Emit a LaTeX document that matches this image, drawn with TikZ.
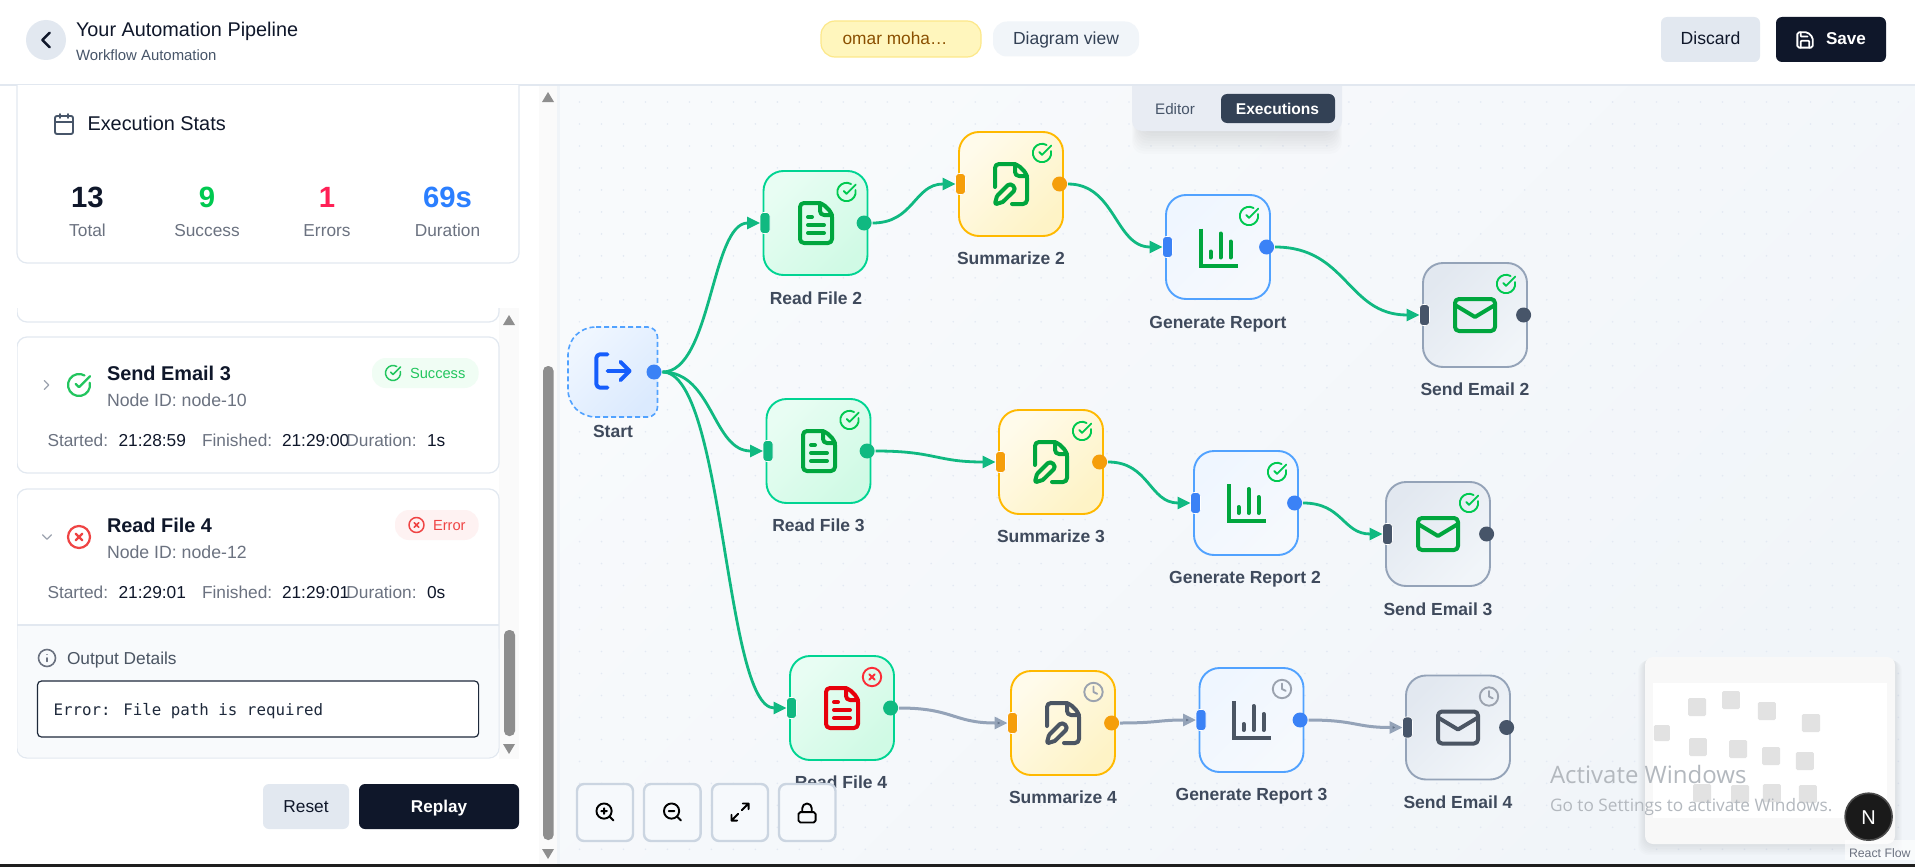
\documentclass[tikz,border=0pt]{standalone}
\usepackage{fontspec}
\setmainfont{Liberation Sans}
\newfontfamily\monof{DejaVu Sans Mono}
\newfontfamily\wmf{Open Sans}
\usetikzlibrary{arrows.meta,calc}
\definecolor{ink}{HTML}{0F172A}
\definecolor{line}{HTML}{E2E8F0}
\definecolor{muted}{HTML}{6B7280}
\definecolor{slate}{HTML}{475569}
\definecolor{labelc}{HTML}{3F4A5C}
\definecolor{okc}{HTML}{00C950}
\definecolor{errc}{HTML}{FB2C36}
\definecolor{sbar}{HTML}{8E8E8E}
\definecolor{track}{HTML}{FAFAFA}
\definecolor{edgeg}{HTML}{10B981}
\definecolor{edgeb}{HTML}{94A3B8}
\definecolor{tipb}{HTML}{64748B}
\definecolor{icg}{HTML}{00A63E}
\definecolor{icr}{HTML}{E7000B}
\definecolor{ick}{HTML}{4B5563}
\definecolor{clk}{HTML}{9CA3AF}
\definecolor{hgreen}{HTML}{10B981}
\definecolor{hamber}{HTML}{F59E0B}
\definecolor{hblue}{HTML}{3B82F6}
\definecolor{hslate}{HTML}{475569}
\definecolor{mapgrey}{HTML}{E2E2E2}
\definecolor{griddot}{HTML}{E3E9F3}
\definecolor{HTMLgreen}{HTML}{00D492}\definecolor{HTMLgreenA}{HTML}{E8FDF3}\definecolor{HTMLgreenB}{HTML}{D0FAE5}
\definecolor{HTMLamber}{HTML}{FFB900}\definecolor{HTMLamberA}{HTML}{FFFBEB}\definecolor{HTMLamberB}{HTML}{FEF3C6}
\definecolor{HTMLblue}{HTML}{51A2FF}\definecolor{HTMLblueA}{HTML}{EFF6FF}\definecolor{HTMLblueB}{HTML}{F6F9FD}
\definecolor{HTMLslate}{HTML}{94A3B8}\definecolor{HTMLslateA}{HTML}{E2E8F0}\definecolor{HTMLslateB}{HTML}{F1F5F9}
\definecolor{HTMLtool}{HTML}{CBD5E1}\definecolor{HTMLtoolf}{HTML}{F6F9FC}
\definecolor{HTMLcanvasA}{HTML}{F8FAFC}\definecolor{HTMLcanvasB}{HTML}{F1F5F9}
\definecolor{HTMLpill}{HTML}{FFF6BD}\definecolor{HTMLpillb}{HTML}{FCE88A}\definecolor{HTMLpillt}{HTML}{8A4F00}
\definecolor{HTMLdiag}{HTML}{334155}
\definecolor{HTMLrose}{HTML}{FF2056}\definecolor{HTMLbl}{HTML}{2B7FFF}
\definecolor{HTMLgood}{HTML}{22C55E}\definecolor{HTMLbad}{HTML}{EF4444}
\definecolor{HTMLbadgeg}{HTML}{F0FDF4}\definecolor{HTMLbadger}{HTML}{FEF2F2}
\definecolor{HTMLbox}{HTML}{1E293B}
\definecolor{HTMLtab}{HTML}{E8ECF3}\definecolor{HTMLtabd}{HTML}{334155}
\definecolor{HTMLstartA}{HTML}{EFF6FF}\definecolor{HTMLstartB}{HTML}{DBEAFE}
\definecolor{HTMLlog}{HTML}{155DFC}
\definecolor{HTMLmap}{HTML}{F8F8F8}
\definecolor{HTMLwm}{HTML}{B3B8BE}
\definecolor{HTMLnb}{HTML}{4A4A4A}\definecolor{HTMLn}{HTML}{1A1A1A}
\definecolor{HTMLbar}{HTML}{1E1E1E}
\newcommand\fs[1]{\fontsize{#1pt}{#1pt}\selectfont}
\newcommand\tx[7]{\node[inner sep=0,outer sep=0,anchor=#4,text=#6,font=\fs{#5}] (#1) at (#2,#3) {#7};}
\tikzset{
 ico/.style n args={4}{shift={(#1,#2)},x=#3 pt,y=-#3 pt,shift={(-12,-12)},line width=#4 pt,line cap=round,line join=round},
 fnode/.style={draw,inner sep=0,outer sep=0,minimum width=104pt,minimum height=104pt,rounded corners=20pt,line width=1.9pt},
 kgreen/.style={draw=HTMLgreen,top color=HTMLgreenA,bottom color=HTMLgreenB,shading angle=45},
 kamber/.style={draw=HTMLamber,top color=HTMLamberA,bottom color=HTMLamberB,shading angle=45},
 kblue/.style={draw=HTMLblue,top color=HTMLblueA,bottom color=HTMLblueB,shading angle=45},
 kslate/.style={draw=HTMLslate,top color=HTMLslateA,bottom color=HTMLslateB,shading angle=45},
 hin/.style={inner sep=0,outer sep=0,minimum width=10pt,minimum height=21pt,rounded corners=3.5pt,draw=white,line width=.6pt},
 hout/.style={circle,inner sep=0,outer sep=0,minimum size=15pt},
 card/.style={draw=line,fill=white,line width=1.2pt,rounded corners=10pt},
 gedge/.style={draw=edgeg,line width=2.8pt,-{Triangle[length=13pt,width=12pt,fill=edgeg]}},
 bedge/.style={draw=edgeb,line width=3pt,-{Triangle[length=13pt,width=12pt,fill=tipb]}},
 tool/.style={draw=HTMLtool,fill=HTMLtoolf,line width=2.4pt,rounded corners=7pt},
 sq/.style={fill=mapgrey,rounded corners=1.5pt},
}
% icons, on lucide's 24-unit grid
\newcommand\icDoc[3]{\begin{scope}[ico={#1}{#2}{2}{4},draw=#3]
 \draw[rounded corners=4pt] (15,2)--(4,2)--(4,22)--(20,22)--(20,7)--cycle;
 \draw[rounded corners=4pt] (14,2)--(14,8)--(20,8);
 \draw (10,9)--(8,9) (16,13)--(8,13) (16,17)--(8,17);\end{scope}}
\newcommand\icPen[3]{\begin{scope}[ico={#1}{#2}{2}{4},draw=#3]
 \draw[rounded corners=4pt] (12.5,22)--(20,22)--(20,7)--(15,2)--(4,2)--(4,13.5);
 \draw[rounded corners=4pt] (14,2)--(14,8)--(20,8);
 \draw (13.378,15.626)..controls (15,14) and (12,11)..(10.374,12.622)--(5.364,17.634)--(4.858,18.488)--(4.1,21.4)--(4.6,22)--(7.8,21)--(8.3,20.6)--cycle;\end{scope}}
\newcommand\icChart[3]{\begin{scope}[ico={#1}{#2}{2}{4},draw=#3]
 \draw[line cap=butt,line join=miter] (3,2.5)--(3,21)--(21.5,21);
 \draw (8,17)--(8,14) (13,17)--(13,5) (18,17)--(18,9);\end{scope}}
\newcommand\icMail[3]{\begin{scope}[ico={#1}{#2}{2}{4},draw=#3]
 \draw[rounded corners=4pt] (2,4) rectangle (22,20);
 \draw (22,7)--(12,13)--(2,7);\end{scope}}
\newcommand\icOk[5]{\begin{scope}[ico={#1}{#2}{#3}{#5},draw=#4]
 \draw (21.8,10) arc[start angle=11.5,end angle=-300,radius={10*#3 pt}];
 \draw (9,11)--(12,14)--(22,4);\end{scope}}
\newcommand\icErr[5]{\begin{scope}[ico={#1}{#2}{#3}{#5},draw=#4]
 \draw (12,12) circle[radius=10];
 \draw (15,9)--(9,15) (9,9)--(15,15);\end{scope}}
\newcommand\icClock[3]{\begin{scope}[ico={#1}{#2}{.92}{1.9},draw=#3]
 \draw (12,12) circle[radius=10];
 \draw (12,6)--(12,12)--(16,14);\end{scope}}
% flow node
\newcommand\flow[8]{%
 \node[fnode,#4] (#1) at (#2,#3) {};
 \node[hin,fill=#5] (#1-in) at ({#2-50.5},#3) {};
 \node[hout,fill=#5] (#1-out) at ({#2+48.6},#3) {};
 \tx{#1-lbl}{#7}{#8}{base}{17.5}{labelc}{\bfseries #6}}
\newcommand\wire[3]{\draw[#3] let \p1=([xshift=1pt]#1.east),\p2=(#2.west),\n1={0.5*(\x1+\x2)} in (\p1) .. controls (\n1,\y1) and (\n1,\y2) .. (\p2);}
\begin{document}
\begin{tikzpicture}[x=1pt,y=-1pt]
\useasboundingbox (0,0) rectangle (1915,867);
\fill[white] (0,0) rectangle (1915,867);
% canvas
\shade[top color=HTMLcanvasA,bottom color=HTMLcanvasB,shading angle=45] (560,85) rectangle (1915,867);
\fill[line!50] (557,85) rectangle (560,864);
\fill[griddot] \foreach \i in {1,...,61}{\foreach \j in {0,...,34}{({557.56+\i*21.98},{102+\j*21.98}) circle[radius=.9]}};
% header
\fill[white] (0,0) rectangle (1915,85);
\draw[line,line width=1.2pt] (0,85)--(1915,85);
\fill[line] (46,40) circle[radius=20];
\begin{scope}[ico={46}{40}{1.2}{2.6},draw=ink]\draw (15,18)--(9,12)--(15,6);\end{scope}
\tx{title}{76}{37}{base west}{19.85}{ink}{Your Automation Pipeline}
\tx{subtitle}{76}{60}{base west}{14.9}{slate}{Workflow Automation}
\node[draw=HTMLpillb,fill=HTMLpill,line width=1.2pt,rounded corners=14pt,minimum width=160pt,minimum height=36pt,inner sep=0] (pill1) at (901,39) {};
\tx{pill1t}{895}{45}{base}{17.3}{HTMLpillt}{omar moha…}
\node[fill=HTMLcanvasB,rounded corners=14pt,minimum width=146pt,minimum height=35pt,inner sep=0] (pill2) at (1066,39) {};
\tx{pill2t}{1066}{45}{base}{17.5}{HTMLdiag}{Diagram view}
\fill[line,rounded corners=6pt] (1661,17) rectangle (1760,62);
\tx{discard}{1710.5}{45}{base}{17.6}{ink}{Discard}
\fill[ink,rounded corners=6pt] (1776,17) rectangle (1886,62);
\begin{scope}[ico={1805}{40}{.85}{1.8},draw=white]
 \draw[rounded corners=1.7pt] (15.2,3)--(3,3)--(3,21)--(21,21)--(21,8.8)--cycle;
 \draw[rounded corners=.8pt] (17,21)--(17,13)--(7,13)--(7,21);
 \draw[rounded corners=.8pt] (7,3)--(7,8)--(15,8);\end{scope}
\tx{save}{1846}{45}{base}{17.1}{white}{\bfseries Save}
% left panel: stats card
\begin{scope}
\clip (0,86) rectangle (540,300);
\draw[card] (17,50) rectangle (519,263);
\end{scope}
\begin{scope}[ico={64}{124}{1}{1.9},draw=slate]
 \draw[rounded corners=2pt] (3,4) rectangle (21,22);
 \draw (16,2)--(16,6) (8,2)--(8,6) (3,10)--(21,10);\end{scope}
\tx{statst}{87.5}{130}{base west}{19.9}{ink}{Execution Stats}
\tx{n1}{87.5}{207}{base}{29.3}{ink}{\bfseries 13}
\tx{n2}{207}{207}{base}{29.3}{okc}{\bfseries 9}
\tx{n3}{327}{207}{base}{29.3}{HTMLrose}{\bfseries 1}
\tx{n4}{447.5}{207}{base}{29.3}{HTMLbl}{\bfseries 69s}
\tx{l1}{87.5}{236}{base}{17.3}{muted}{Total}
\tx{l2}{207}{236}{base}{17.3}{muted}{Success}
\tx{l3}{327}{236}{base}{17.3}{muted}{Errors}
\tx{l4}{447.5}{236}{base}{17.3}{muted}{Duration}
% outer scrollbar
\fill[track] (539,86) rectangle (557,864);
\fill[sbar,rounded corners=5pt] (543,366) rectangle (553.6,840);
\fill[sbar] (548,92)--(554,102)--(542,102)--cycle;
\fill[sbar] (548,859)--(554,849)--(542,849)--cycle;
% inner list
\begin{scope}
\clip (17,308) rectangle (519,759);
\fill[track] (499,308) rectangle (519,759);
\draw[card] (17,250) rectangle (499,322);
\draw[card] (17,337) rectangle (499,473);
\draw[card] (17,489) rectangle (499,758);
\fill[HTMLcanvasA,rounded corners=10pt] (17.6,640)--(17.6,757.4)--(498.4,757.4)--(498.4,640)--cycle;
\fill[HTMLcanvasA] (17.6,625)rectangle(498.4,650);
\draw[line,line width=1.2pt] (17,625)--(499,625);
\end{scope}
\fill[sbar] (509,315)--(515,325)--(503,325)--cycle;
\fill[sbar] (509,754)--(515,744)--(503,744)--cycle;
\fill[sbar,rounded corners=5pt] (504,630) rectangle (515,736);
% card 1
\begin{scope}[ico={46.5}{385}{.75}{1.4},draw=clk]\draw (9,18)--(15,12)--(9,6);\end{scope}
\icOk{79}{385}{1.1}{HTMLgood}{2.2}
\tx{c1t}{107}{380}{base west}{19.9}{ink}{\bfseries Send Email 3}
\tx{c1n}{107}{406}{base west}{17.7}{muted}{Node ID: node-10}
\node[fill=HTMLbadgeg,rounded corners=14pt,minimum width=106.6pt,minimum height=30pt,inner sep=0] (b1) at (425.3,373) {};
\icOk{393}{373}{.75}{HTMLgood}{1.5}
\tx{b1t}{410}{378.5}{base west}{14.66}{HTMLgood}{Success}
\tx{r1a}{47.5}{446}{base west}{17.3}{muted}{Started:}
\tx{r1b}{118.6}{446}{base west}{17.3}{ink}{21:28:59}
\tx{r1c}{202}{446}{base west}{17.3}{muted}{Finished:}
\tx{r1d}{282}{446}{base west}{17.3}{ink}{21:29:00}
\tx{r1e}{346.4}{446}{base west}{17.3}{muted}{Duration:}
\tx{r1f}{427}{446}{base west}{17.3}{ink}{1s}
% card 2
\begin{scope}[ico={47}{537}{.75}{1.4},draw=clk]\draw (6,9)--(12,15)--(18,9);\end{scope}
\icErr{79}{537}{1.1}{HTMLbad}{2.2}
\tx{c2t}{107}{532}{base west}{19.9}{ink}{\bfseries Read File 4}
\tx{c2n}{107}{558}{base west}{17.7}{muted}{Node ID: node-12}
\node[fill=HTMLbadger,rounded corners=14pt,minimum width=83.6pt,minimum height=30pt,inner sep=0] (b2) at (436.8,525) {};
\icErr{416.5}{525}{.75}{HTMLbad}{1.5}
\tx{b2t}{433}{530.7}{base west}{14.66}{HTMLbad}{Error}
\tx{r2a}{47.5}{598}{base west}{17.3}{muted}{Started:}
\tx{r2b}{118.6}{598}{base west}{17.3}{ink}{21:29:01}
\tx{r2c}{202}{598}{base west}{17.3}{muted}{Finished:}
\tx{r2d}{282}{598}{base west}{17.3}{ink}{21:29:01}
\tx{r2e}{346.4}{598}{base west}{17.3}{muted}{Duration:}
\tx{r2f}{427}{598}{base west}{17.3}{ink}{0s}
\begin{scope}[ico={47}{658}{.85}{1.6},draw=muted]
 \draw (12,12) circle[radius=10];
 \draw (12,16)--(12,12) (12,8)--(12.01,8);\end{scope}
\tx{outd}{67}{664}{base west}{17.3}{ick}{Output Details}
\draw[draw=HTMLbox,fill=white,line width=1.2pt,rounded corners=4pt] (37.5,681) rectangle (478.6,737);
\tx{errt}{53.6}{715}{base west}{15.8}{HTMLbox}{\monof Error: File path is required}
% bottom buttons
\fill[line,rounded corners=6pt] (263,784) rectangle (349,829);
\tx{reset}{306}{812}{base}{17.3}{ink}{Reset}
\fill[ink,rounded corners=6pt] (359,784) rectangle (519,829);
\tx{replay}{439}{812}{base}{17.1}{white}{\bfseries Replay}
% tab panel
\foreach \i in {1,...,10}{\fill[black,opacity=.011,rounded corners=12pt] ({1142-\i},85) rectangle ({1332+\i},{128+\i*2.6});}
\fill[HTMLtab,rounded corners=10pt] (1132,75) rectangle (1342,131);
\fill[white] (1125,70) rectangle (1350,85);
\draw[line,line width=1.2pt] (1125,85)--(1350,85);
\fill[HTMLtab] (1132,86) rectangle (1342,100);
\tx{editor}{1175}{114}{base}{15.2}{slate}{Editor}
\fill[HTMLtabd,rounded corners=6pt] (1221,94) rectangle (1335,123);
\tx{exec}{1277.5}{114}{base}{15.6}{white}{\bfseries Executions}
% start node
\node[inner sep=0,outer sep=0,minimum width=89.5pt,minimum height=90pt,anchor=center] (start) at (612.8,372) {};
\draw[draw=HTMLblue,top color=HTMLstartA,bottom color=HTMLstartB,shading angle=45,line width=1.6pt,dash pattern=on 5pt off 3pt]
 (596,327) -- (647.5,327) .. controls (653,327) and (657.5,331.5) .. (657.5,337) -- (657.5,407) .. controls (657.5,412.5) and (653,417) .. (647.5,417) -- (596,417)
 .. controls (580,417) and (568,405) .. (568,389) -- (568,355) .. controls (568,339) and (580,327) .. (596,327) -- cycle;
\begin{scope}[ico={613}{371}{1.85}{3.9},draw=HTMLlog]
 \draw[rounded corners=3.6pt] (9,21)--(3,21)--(3,3)--(9,3);
 \draw (16,17)--(21,12)--(16,7) (21,12)--(9,12);\end{scope}
\node[hout,fill=hblue] (start-out) at (654,372) {};
\tx{start-lbl}{613}{437}{base}{17.5}{labelc}{\bfseries Start}
% flow nodes
\flow{rf2}{815.5}{223}{kgreen}{hgreen}{Read File 2}{816}{304}
\flow{s2}{1011}{184}{kamber}{hamber}{Summarize 2}{1011}{264}
\flow{gr1}{1218}{247}{kblue}{hblue}{Generate Report}{1218}{328}
\flow{se2}{1475}{315}{kslate}{hslate}{Send Email 2}{1475}{395}
\flow{rf3}{818.5}{451}{kgreen}{hgreen}{Read File 3}{818.5}{531}
\flow{s3}{1051}{462}{kamber}{hamber}{Summarize 3}{1051}{542}
\flow{gr2}{1246}{503}{kblue}{hblue}{Generate Report 2}{1245}{583}
\flow{se3}{1438}{534}{kslate}{hslate}{Send Email 3}{1438}{615}
\flow{rf4}{842}{708}{kgreen}{hgreen}{Read File 4}{841}{788}
\flow{s4}{1063}{723}{kamber}{hamber}{Summarize 4}{1063}{803}
\flow{gr3}{1251.5}{720}{kblue}{hblue}{Generate Report 3}{1251.5}{800}
\flow{se4}{1458}{727.5}{kslate}{hslate}{Send Email 4}{1458}{808}
% icons
\icDoc{816}{223}{icg}\icPen{1011}{184}{icg}\icChart{1218.5}{247.5}{icg}\icMail{1475}{315}{icg}
\icDoc{819}{451}{icg}\icPen{1051}{462}{icg}\icChart{1246.5}{503}{icg}\icMail{1438}{534}{icg}
\icDoc{842}{708}{icr}\icPen{1063}{723}{ick}\icChart{1251.5}{720}{ick}\icMail{1458}{727.5}{ick}
\icOk{846.5}{192}{.92}{okc}{1.9}\icOk{1042}{153}{.92}{okc}{1.9}\icOk{1249}{216}{.92}{okc}{1.9}\icOk{1506}{284}{.92}{okc}{1.9}
\icOk{849.5}{420}{.92}{okc}{1.9}\icOk{1082}{431}{.92}{okc}{1.9}\icOk{1277}{472}{.92}{okc}{1.9}\icOk{1469}{503}{.92}{okc}{1.9}
\icErr{872}{677}{.92}{errc}{1.9}
\icClock{1093.5}{692}{clk}\icClock{1282}{689}{clk}\icClock{1489}{696.5}{clk}
% edges
\wire{start-out}{rf2-in}{gedge}
\wire{start-out}{rf3-in}{gedge}
\wire{start-out}{rf4-in}{gedge}
\wire{rf2-out}{s2-in}{gedge}
\wire{s2-out}{gr1-in}{gedge}
\wire{gr1-out}{se2-in}{gedge}
\wire{rf3-out}{s3-in}{gedge}
\wire{s3-out}{gr2-in}{gedge}
\wire{gr2-out}{se3-in}{gedge}
\wire{rf4-out}{s4-in}{bedge}
\wire{s4-out}{gr3-in}{bedge}
\wire{gr3-out}{se4-in}{bedge}
% tool buttons
\draw[tool] (577,784) rectangle (633,841);
\draw[tool] (644,784) rectangle (700.6,841);
\draw[tool] (712,784) rectangle (768,841);
\draw[tool] (779,784) rectangle (835.5,841);
\begin{scope}[ico={605}{812}{.95}{1.9},draw=black]
 \draw (11,11) circle[radius=8]; \draw (21,21)--(16.7,16.7) (11,8)--(11,14) (8,11)--(14,11);\end{scope}
\begin{scope}[ico={672.5}{812}{.95}{1.9},draw=black]
 \draw (11,11) circle[radius=8]; \draw (21,21)--(16.7,16.7) (8,11)--(14,11);\end{scope}
\begin{scope}[ico={740}{812}{.95}{1.9},draw=black]
 \draw (15,3)--(21,3)--(21,9) (21,3)--(14,10) (3,21)--(10,14) (9,21)--(3,21)--(3,15);\end{scope}
\begin{scope}[ico={807}{813}{.95}{1.9},draw=black]
 \draw[rounded corners=1.9pt] (3,11) rectangle (21,22);
 \draw (7,11)--(7,7)..controls (7,4.2) and (9.2,2)..(12,2)..controls (14.8,2) and (17,4.2)..(17,7)--(17,11);\end{scope}
% minimap
\foreach \i in {1,...,7}{\fill[black,opacity=.01,rounded corners=10pt] ({1645-\i},{657+\i*.5}) rectangle ({1895+\i},{844+\i*1.6});}
\fill[HTMLmap,rounded corners=8pt] (1645,657) rectangle (1895,844);
\fill[white] (1653,683) rectangle (1887,818);
\begin{scope}[shift={(1260,440)},x=.41771pt,y=-.33333pt]
\fill[sq] (943,855) rectangle (981,903);
\fill[sq] (1025,774) rectangle (1068,828);
\fill[sq] (1106,753) rectangle (1149,807);
\fill[sq] (1192,786) rectangle (1235,840);
\fill[sq] (1297,822) rectangle (1341,876);
\fill[sq] (1027,894) rectangle (1070,948);
\fill[sq] (1123,900) rectangle (1166,954);
\fill[sq] (1202,921) rectangle (1245,975);
\fill[sq] (1283,936) rectangle (1326,990);
\fill[sq] (1037,1032) rectangle (1080,1086);
\fill[sq] (1128,1035) rectangle (1171,1089);
\fill[sq] (1204,1032) rectangle (1247,1086);
\fill[sq] (1290,1035) rectangle (1333,1089);
\end{scope}
% watermark
\tx{wm1}{1550}{783}{base west}{24}{HTMLwm}{\wmf Activate Windows}
\tx{wm2}{1550}{811}{base west}{17.25}{HTMLwm}{\wmf Go to Settings to activate Windows.}
% attribution
\fill[white,opacity=.6] (1845,840) rectangle (1915,860);
\tx{rflow}{1849}{857}{base west}{12.3}{muted}{React Flow}
\node[circle,draw=HTMLnb,fill=HTMLn,line width=1.6pt,minimum size=47pt,inner sep=0] (nbadge) at (1868.6,816.7) {};
\tx{nt}{1868.6}{824}{base}{20}{white}{N}
% bottom bar
\fill[HTMLbar] (0,864) rectangle (1915,867);
\end{tikzpicture}
\end{document}
